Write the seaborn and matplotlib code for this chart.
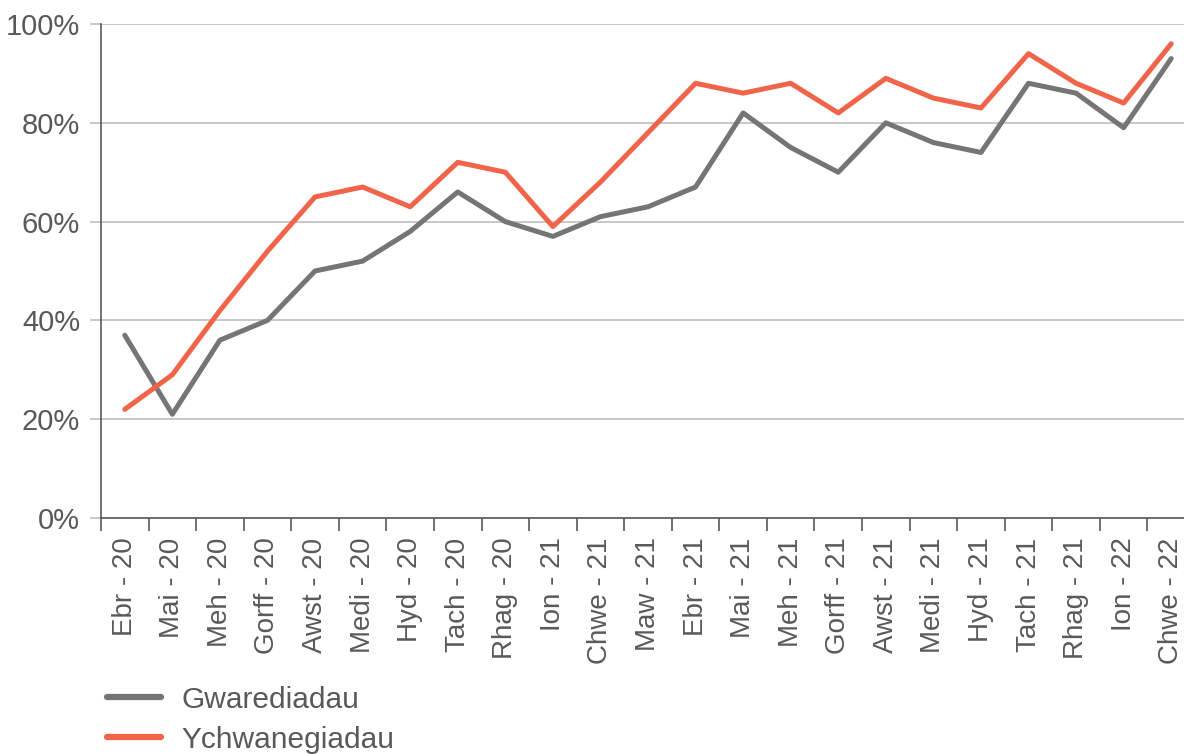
import pandas as pd
import matplotlib.pyplot as plt
import seaborn as sns
from matplotlib.ticker import FixedLocator, PercentFormatter

months = ['Ebr - 20', 'Mai - 20', 'Meh - 20', 'Gorff - 20', 'Awst - 20', 'Medi - 20',
          'Hyd - 20', 'Tach - 20', 'Rhag - 20', 'Ion - 21', 'Chwe - 21', 'Maw - 21',
          'Ebr - 21', 'Mai - 21', 'Meh - 21', 'Gorff - 21', 'Awst - 21', 'Medi - 21',
          'Hyd - 21', 'Tach - 21', 'Rhag - 21', 'Ion - 22', 'Chwe - 22']
gwarediadau = [37, 21, 36, 40, 50, 52, 58, 66, 60, 57, 61, 63,
               67, 82, 75, 70, 80, 76, 74, 88, 86, 79, 93]
ychwanegiadau = [22, 29, 42, 54, 65, 67, 63, 72, 70, 59, 68, 78,
                 88, 86, 88, 82, 89, 85, 83, 94, 88, 84, 96]

df = pd.concat([
    pd.DataFrame({'month': months, 'value': gwarediadau, 'series': 'Gwarediadau'}),
    pd.DataFrame({'month': months, 'value': ychwanegiadau, 'series': 'Ychwanegiadau'}),
])
df['pos'] = df['month'].map({m: i for i, m in enumerate(months)})

sns.set_style('white')
plt.rcParams['font.family'] = ['Liberation Sans', 'DejaVu Sans']
text_col = '#595959'
grey = '#757575'
red = '#F0644A'

fig = plt.figure(figsize=(11.84, 7.54), dpi=100)
ax = fig.add_axes([101 / 1184, 236 / 754, 1094 / 1184, 494 / 754])

sns.lineplot(data=df, x='pos', y='value', hue='series', sort=False,
             palette={'Gwarediadau': grey, 'Ychwanegiadau': red},
             linewidth=3.6, ax=ax, legend=False)

ax.set_xlim(-0.5, len(months) - 0.5)
ax.set_ylim(0, 100)
ax.set_yticks(range(0, 101, 20))
ax.yaxis.set_major_formatter(PercentFormatter(decimals=0))
ax.grid(axis='y', color='#BFBFBF', linewidth=1.2)
ax.set_axisbelow(True)

# labels in the middle of each month, tick marks on the boundaries
ax.set_xticks(range(len(months)))
ax.set_xticklabels(months, rotation=90)
ax.xaxis.set_minor_locator(FixedLocator([i - 0.5 for i in range(len(months) + 1)]))
ax.tick_params(axis='x', which='major', bottom=True, length=0, pad=14,
               labelsize=20, labelcolor=text_col)
ax.tick_params(axis='x', which='minor', bottom=True, length=9, width=1.2, color='#595959')
ax.tick_params(axis='y', left=True, length=8, width=1.2, color='#BFBFBF',
               labelsize=21, pad=7, labelcolor=text_col)
ax.set_xlabel('')
ax.set_ylabel('')

for s in ['top', 'right']:
    ax.spines[s].set_visible(False)
for s in ['left', 'bottom']:
    ax.spines[s].set_color('#595959')
    ax.spines[s].set_linewidth(1.2)

handles = [plt.Line2D([], [], color=grey, linewidth=4.5, solid_capstyle='round'),
           plt.Line2D([], [], color=red, linewidth=4.5, solid_capstyle='round')]
fig.legend(handles, ['Gwarediadau', 'Ychwanegiadau'], loc='lower left',
           bbox_to_anchor=(80 / 1184, -0.035), frameon=False, fontsize=21.5,
           handlelength=1.8, handletextpad=0.7, labelspacing=0.4, labelcolor=text_col)

fig.savefig('out.png', dpi=100)
